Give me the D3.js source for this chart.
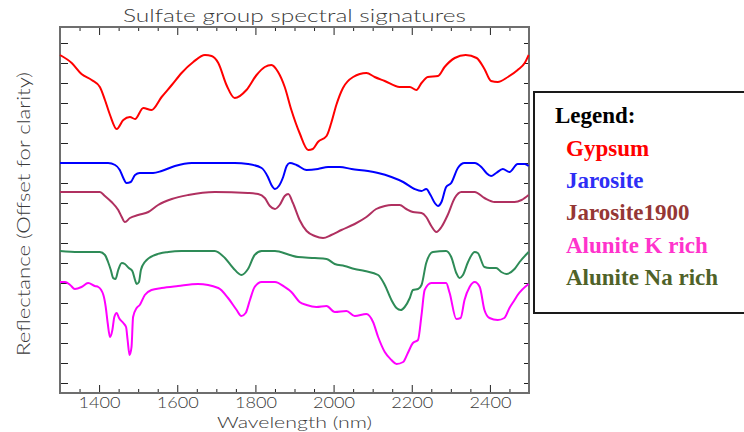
<!DOCTYPE html>
<html>
<head>
<meta charset="utf-8">
<script src="https://cdn.jsdelivr.net/npm/d3@7"></script>
<style>
  html, body { margin: 0; padding: 0; background: #fff; }
  svg { display: block; }
</style>
</head>
<body>
<svg id="chart" width="744" height="432"></svg>
<script>
// Spectra: [wavelength (nm), reflectance offset for clarity]
const gypsum = [
  [1300,1.64],[1330,1.60],[1355,1.545],[1381,1.515],[1402,1.48],[1415,1.415],[1428,1.34],
  [1445,1.27],[1462,1.315],[1479,1.33],[1492,1.32],[1513,1.375],[1534,1.365],[1560,1.43],
  [1586,1.49],[1611,1.55],[1641,1.605],[1671,1.64],[1688,1.635],[1705,1.60],[1726,1.49],
  [1747,1.425],[1777,1.465],[1803,1.54],[1824,1.58],[1841,1.59],[1858,1.555],[1875,1.48],
  [1892,1.365],[1913,1.25],[1935,1.165],[1947,1.17],[1960,1.205],[1982,1.235],[1994,1.30],
  [2007,1.39],[2024,1.475],[2050,1.53],[2084,1.55],[2105,1.53],[2131,1.51],[2169,1.48],
  [2195,1.48],[2212,1.465],[2225,1.50],[2241,1.53],[2267,1.535],[2284,1.58],[2310,1.625],
  [2338,1.64],[2366,1.625],[2386,1.57],[2403,1.51],[2420,1.505],[2446,1.53],[2471,1.565],
  [2489,1.60],[2499,1.64]
];
const jarosite = [
  [1300,1.10],[1423,1.10],[1441,1.09],[1453,1.065],[1462,1.025],[1470,1.00],[1481,1.005],
  [1492,1.04],[1504,1.05],[1517,1.05],[1538,1.05],[1560,1.06],[1594,1.085],[1637,1.10],
  [1747,1.10],[1781,1.095],[1816,1.075],[1832,1.03],[1841,0.99],[1850,0.97],[1860,0.985],
  [1871,1.03],[1880,1.085],[1888,1.10],[1905,1.09],[1931,1.065],[1960,1.07],[1986,1.08],
  [2016,1.08],[2046,1.07],[2088,1.06],[2114,1.05],[2148,1.03],[2178,1.005],[2207,0.97],
  [2225,0.96],[2237,0.97],[2248,0.94],[2259,0.90],[2267,0.885],[2276,0.905],[2288,0.98],
  [2301,1.00],[2318,1.075],[2335,1.10],[2361,1.10],[2378,1.08],[2391,1.05],[2403,1.035],
  [2416,1.05],[2433,1.07],[2450,1.055],[2471,1.095],[2489,1.095],[2499,1.085]
];
const jarosite1900 = [
  [1300,0.955],[1402,0.955],[1415,0.935],[1432,0.905],[1449,0.865],[1458,0.83],[1466,0.805],
  [1479,0.825],[1500,0.84],[1526,0.855],[1551,0.89],[1586,0.92],[1628,0.94],[1696,0.955],
  [1781,0.95],[1807,0.945],[1824,0.925],[1837,0.885],[1850,0.87],[1862,0.89],[1875,0.935],
  [1884,0.945],[1896,0.90],[1913,0.815],[1931,0.76],[1952,0.735],[1973,0.725],[1994,0.74],
  [2020,0.765],[2054,0.795],[2084,0.83],[2109,0.87],[2131,0.885],[2148,0.89],[2169,0.89],
  [2186,0.87],[2203,0.855],[2225,0.85],[2237,0.83],[2250,0.785],[2263,0.755],[2276,0.78],
  [2292,0.84],[2310,0.925],[2327,0.955],[2361,0.955],[2386,0.925],[2412,0.905],[2463,0.905],
  [2481,0.915],[2499,0.94]
];
const aluniteK = [
  [1300,0.505],[1313,0.505],[1326,0.49],[1338,0.47],[1355,0.48],[1372,0.50],[1389,0.485],
  [1398,0.48],[1411,0.44],[1417,0.38],[1422,0.30],[1428,0.23],[1434,0.265],[1439,0.33],
  [1445,0.35],[1451,0.325],[1462,0.30],[1469,0.28],[1473,0.215],[1478,0.14],[1483,0.18],
  [1487,0.33],[1496,0.375],[1504,0.39],[1517,0.44],[1534,0.465],[1560,0.475],[1602,0.485],
  [1653,0.495],[1705,0.475],[1730,0.425],[1752,0.365],[1764,0.335],[1775,0.35],[1786,0.415],
  [1798,0.48],[1816,0.505],[1850,0.505],[1875,0.48],[1892,0.455],[1913,0.405],[1931,0.39],
  [1956,0.38],[1982,0.385],[2003,0.355],[2033,0.36],[2054,0.335],[2084,0.345],[2101,0.305],
  [2114,0.23],[2131,0.155],[2148,0.115],[2161,0.095],[2178,0.105],[2190,0.15],[2203,0.20],
  [2216,0.215],[2225,0.34],[2233,0.465],[2250,0.50],[2288,0.50],[2297,0.45],[2314,0.32],
  [2325,0.325],[2335,0.415],[2348,0.48],[2361,0.505],[2374,0.48],[2386,0.365],[2399,0.325],
  [2420,0.315],[2437,0.325],[2450,0.375],[2463,0.415],[2471,0.44],[2499,0.495]
];
const aluniteNa = [
  [1300,0.66],[1347,0.655],[1402,0.655],[1415,0.64],[1423,0.605],[1430,0.565],[1436,0.525],
  [1442,0.52],[1449,0.565],[1458,0.60],[1466,0.595],[1476,0.575],[1485,0.56],[1492,0.515],
  [1496,0.495],[1502,0.505],[1507,0.565],[1517,0.605],[1543,0.64],[1577,0.655],[1611,0.66],
  [1696,0.66],[1722,0.625],[1743,0.575],[1764,0.54],[1781,0.57],[1798,0.64],[1816,0.66],
  [1850,0.66],[1888,0.64],[1909,0.63],[1952,0.625],[1982,0.62],[2003,0.595],[2028,0.585],
  [2054,0.57],[2080,0.56],[2114,0.54],[2131,0.49],[2148,0.415],[2161,0.375],[2172,0.365],
  [2182,0.38],[2195,0.425],[2203,0.465],[2216,0.47],[2225,0.49],[2237,0.60],[2254,0.655],
  [2288,0.66],[2301,0.63],[2314,0.55],[2322,0.525],[2331,0.54],[2344,0.605],[2361,0.655],
  [2369,0.65],[2386,0.58],[2399,0.575],[2416,0.575],[2429,0.555],[2442,0.545],[2463,0.57],
  [2476,0.605],[2499,0.655]
];

const seriesNames = ["Gypsum", "Jarosite", "Jarosite1900", "Alunite K rich", "Alunite Na rich"];
const seriesData = [gypsum, jarosite, jarosite1900, aluniteK, aluniteNa];
const lineColors = ["#ff0000", "#0000ff", "#b03060", "#ff00ff", "#2e8b57"];
const legendColors = ["#ff0000", "#2e2ef5", "#953735", "#ff33cc", "#4f6228"];

const xMajorTicks = [1400, 1600, 1800, 2000, 2200, 2400];
const xMinorTicks = d3.range(1350, 2500, 50).filter(v => !xMajorTicks.includes(v));
const yTicks = d3.range(0, 1.75, 0.1);

const titleText = "Sulfate group spectral signatures";
const xLabelText = "Wavelength (nm)";
const yLabelText = "Reflectance (Offset for clarity)";
const legendTitle = "Legend:";

const svg = d3.select("#chart");
const plot = { left: 60, right: 529, top: 27, bottom: 393 };

const x = d3.scaleLinear().domain([1300, 2500]).range([plot.left, plot.right]);
const y = d3.scaleLinear().domain([-0.05, 1.78]).range([plot.bottom, plot.top]);

const axisFont = "Lato, 'Open Sans', 'DejaVu Sans', sans-serif";
const textColor = "#3a3a3a";

// tick marks point inward on all four sides
function styleAxis(g) {
  g.select(".domain").remove();
  g.selectAll(".tick line").attr("stroke", "#222").attr("stroke-width", 1);
}

svg.append("g").attr("transform", `translate(0,${plot.bottom})`)
  .call(d3.axisBottom(x).tickValues(xMinorTicks).tickSize(-4).tickFormat(""))
  .call(styleAxis);
const xMajor = svg.append("g").attr("transform", `translate(0,${plot.bottom})`)
  .call(d3.axisBottom(x).tickValues(xMajorTicks).tickSize(-8).tickPadding(4).tickFormat(d3.format("d")))
  .call(styleAxis);
xMajor.selectAll(".tick text")
  .attr("font-family", axisFont).attr("font-weight", 300).attr("font-size", 16)
  .attr("fill", textColor).attr("textLength", 42).attr("lengthAdjust", "spacingAndGlyphs");

svg.append("g").attr("transform", `translate(0,${plot.top})`)
  .call(d3.axisTop(x).tickValues(xMinorTicks).tickSize(-4).tickFormat(""))
  .call(styleAxis);
svg.append("g").attr("transform", `translate(0,${plot.top})`)
  .call(d3.axisTop(x).tickValues(xMajorTicks).tickSize(-8).tickFormat(""))
  .call(styleAxis);

svg.append("g").attr("transform", `translate(${plot.left},0)`)
  .call(d3.axisLeft(y).tickValues(yTicks).tickSize(-8).tickFormat(""))
  .call(styleAxis);
svg.append("g").attr("transform", `translate(${plot.right},0)`)
  .call(d3.axisRight(y).tickValues(yTicks).tickSize(-5).tickFormat(""))
  .call(styleAxis);

// plot frame
svg.append("rect")
  .attr("x", plot.left).attr("y", plot.top)
  .attr("width", plot.right - plot.left).attr("height", plot.bottom - plot.top)
  .attr("fill", "none").attr("stroke", "#6e6e6e").attr("stroke-width", 2);

// spectra
const line = d3.line()
  .x(d => x(d[0]))
  .y(d => y(d[1]))
  .curve(d3.curveMonotoneX);

svg.append("g").selectAll("path")
  .data(seriesData)
  .join("path")
  .attr("d", line)
  .attr("fill", "none")
  .attr("stroke", (d, i) => lineColors[i])
  .attr("stroke-width", 2)
  .attr("stroke-linejoin", "round");

// title and axis labels
svg.append("text")
  .attr("x", (plot.left + plot.right) / 2).attr("y", 22)
  .attr("text-anchor", "middle")
  .attr("font-family", axisFont).attr("font-weight", 300).attr("font-size", 18)
  .attr("fill", textColor)
  .attr("textLength", 343).attr("lengthAdjust", "spacingAndGlyphs")
  .text(titleText);

svg.append("text")
  .attr("x", (plot.left + plot.right) / 2).attr("y", 428)
  .attr("text-anchor", "middle")
  .attr("font-family", axisFont).attr("font-weight", 300).attr("font-size", 16)
  .attr("fill", textColor)
  .attr("textLength", 155).attr("lengthAdjust", "spacingAndGlyphs")
  .text(xLabelText);

svg.append("text")
  .attr("transform", "translate(30,214) rotate(-90)")
  .attr("text-anchor", "middle")
  .attr("font-family", axisFont).attr("font-weight", 300).attr("font-size", 17)
  .attr("fill", textColor)
  .attr("textLength", 284).attr("lengthAdjust", "spacingAndGlyphs")
  .text(yLabelText);

// legend box
const legend = svg.append("g");
legend.append("rect")
  .attr("x", 534).attr("y", 92).attr("width", 230).attr("height", 221)
  .attr("fill", "#fff").attr("stroke", "#1a1a1a").attr("stroke-width", 2);

const legendFont = "'Liberation Serif', 'DejaVu Serif', serif";
legend.append("text")
  .attr("x", 555).attr("y", 123)
  .attr("font-family", legendFont).attr("font-weight", "bold").attr("font-size", 23)
  .attr("fill", "#000")
  .text(legendTitle);

legend.selectAll("text.entry")
  .data(seriesNames)
  .join("text")
  .attr("class", "entry")
  .attr("x", 566)
  .attr("y", (d, i) => 156 + i * 32.2)
  .attr("font-family", legendFont).attr("font-weight", "bold").attr("font-size", 23)
  .attr("fill", (d, i) => legendColors[i])
  .text(d => d);
</script>
</body>
</html>
